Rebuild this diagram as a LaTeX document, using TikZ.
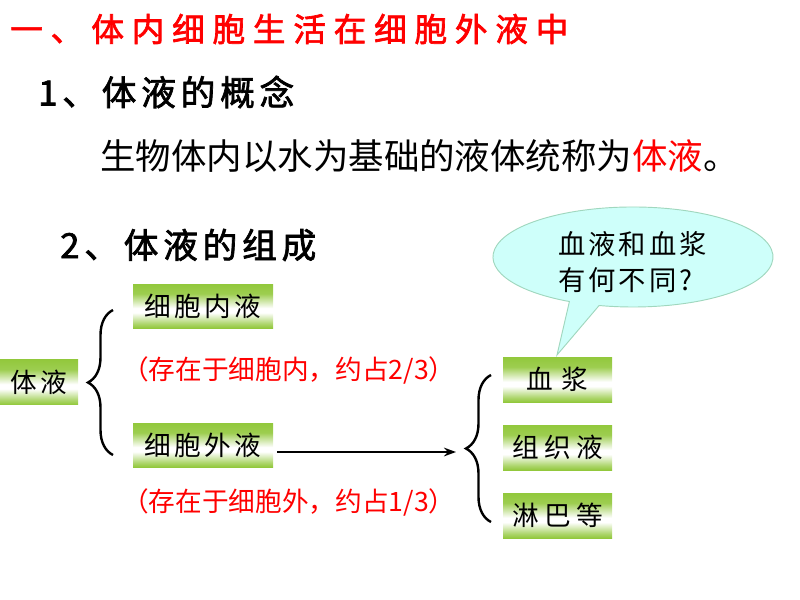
\documentclass[tikz,border=0pt]{standalone}
\usepackage{fontspec}
\usetikzlibrary{decorations.pathreplacing,arrows.meta}
\newfontfamily\cjk{Noto Sans CJK SC}
\newfontfamily\cjkb{Noto Sans CJK SC}[FakeBold=2]
\definecolor{gg}{RGB}{146,200,60}
\definecolor{bubfill}{RGB}{206,255,250}
\definecolor{bubline}{RGB}{160,215,190}
\pgfdeclareverticalshading{gboxshade}{100bp}{color(0bp)=(gg); color(25bp)=(gg); color(30bp)=(gg!75!white); color(42.5bp)=(white); color(47.5bp)=(white); color(64bp)=(gg!90!white); color(75bp)=(gg); color(100bp)=(gg)}
\ExplSyntaxOn
\NewDocumentCommand\spc{mm}{\tl_map_inline:nn {#2}{##1\hspace{#1}}\unskip}
\ExplSyntaxOff
\begin{document}
\begin{tikzpicture}[x=0.75pt,y=-0.75pt,
  gbox/.style={shading=gboxshade, inner sep=0pt, font=\cjk\fontsize{20}{20}\selectfont},
  bracestyle/.style={decorate, decoration={brace, amplitude=18.75pt}, line width=1.8pt},
  redtxt/.style={anchor=west, inner sep=0pt, text=red, font=\cjk\fontsize{20}{20}\selectfont},
  head/.style={anchor=west, inner sep=0pt, font=\cjkb\fontsize{26}{26}\selectfont}]
\useasboundingbox (0,0) rectangle (800,600);
% title and headings
\node[anchor=west, inner sep=0pt, text=red, font=\cjkb\fontsize{24.5}{24.5}\selectfont] (title) at (10,29) {\spc{5.8pt}{一、}\hspace{6pt}\spc{5.8pt}{体内细胞生活在细胞外液中}};
\node[head] (h1) at (38,92) {\spc{3.6pt}{1、体液的概念}};
\node[anchor=west, inner sep=0pt, font=\cjk\fontsize{26.6}{26.6}\selectfont] (def) at (100,156) {生物体内以水为基础的液体统称为\textcolor{red}{体液}。};
\node[head] (h2) at (60,245) {\spc{3.6pt}{2、体液的组成}};
% speech bubble
\coordinate (tip) at (557,355);
\draw[fill=bubfill, draw=bubline, line width=0.7pt] (599.1,305.5) arc[start angle=256, end angle=603, x radius=105pt, y radius=37.5pt] -- (tip) -- cycle;
\node[anchor=west, inner sep=0pt, align=left, font=\cjk\fontsize{20.5}{27}\selectfont] (q) at (558,262) {\spc{2.2pt}{血液和血浆}\\\spc{2.2pt}{有何不同?}};
% boxes
\node[gbox, minimum width=58.5pt, minimum height=33.75pt] (tiye) at (39,382) {\spc{2.5pt}{体液}};
\node[gbox, minimum width=105pt, minimum height=33pt] (nei) at (203,306) {\spc{2.5pt}{细胞内液}};
\node[gbox, minimum width=105pt, minimum height=33pt] (wai) at (203,445) {\spc{2.5pt}{细胞外液}};
\node[gbox, minimum width=81.75pt, minimum height=33.75pt] (xj) at (557.5,379.5) {\spc{6pt}{血浆}};
\node[gbox, minimum width=81.75pt, minimum height=33.75pt] (zz) at (557.5,447.5) {\spc{4pt}{组织液}};
\node[gbox, minimum width=81.75pt, minimum height=33.75pt] (lb) at (557.5,515.5) {\spc{4pt}{淋巴等}};
% red notes
\node[redtxt] (r1) at (122,370) {（存在于细胞内，约占2/3）};
\node[redtxt] (r2) at (122,502) {（存在于细胞外，约占1/3）};
% braces
\draw[bracestyle] (113,455) -- (113,310);
\coordinate (lbt) at (88,382);
\draw[bracestyle] (491,522) -- (491,375);
\coordinate (rbt) at (466,448);
% arrow
\draw[-{Stealth[length=9pt,width=6.5pt]}, line width=2pt] ([shift={(4,7)}]wai.east) -- ([shift={(-10,4)}]rbt);
\end{tikzpicture}
\end{document}
